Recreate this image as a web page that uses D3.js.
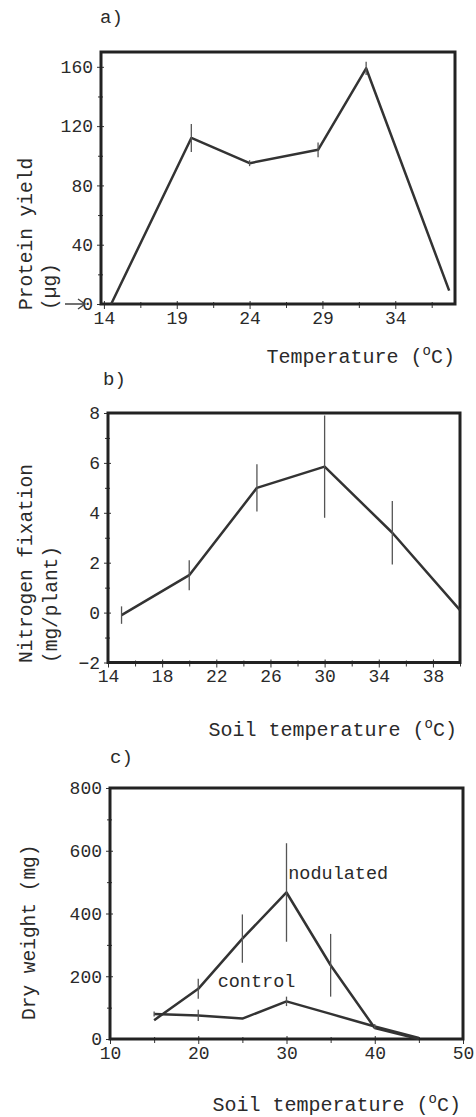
<!DOCTYPE html>
<html>
<head>
<meta charset="utf-8">
<script src="https://cdn.jsdelivr.net/npm/d3@7"></script>
<style>
  body { margin: 0; background: #fff; }
  text { font-family: "Liberation Mono", "Courier New", monospace; fill: #2a2a2a; }
</style>
</head>
<body>
<div id="chart"></div>
<script>
// a) protein yield vs temperature
const tempA = [14.5, 20, 24, 28.7, 32, 37.7];
const proteinA = [0, 112, 95, 104, 159, 9];
const proteinErrA = [0, 9.5, 2, 5, 4.5, 0];
const xTicksA = [14, 19, 24, 29, 34];
const yTicksA = [0, 40, 80, 120, 160];

// b) nitrogen fixation vs soil temperature
const tempB = [15, 20, 25, 30, 35, 40];
const fixationB = [-0.1, 1.5, 5.0, 5.85, 3.2, 0.1];
const fixationErrB = [0.35, 0.6, 0.95, 2.05, 1.27, 0];
const xTicksB = [14, 18, 22, 26, 30, 34, 38];
const yTicksB = [-2, 0, 2, 4, 6, 8];

// c) dry weight vs soil temperature
const tempC = [15, 20, 25, 30, 35, 40, 45];
const nodulatedC = [60, 160, 320, 467, 235, 35, 0];
const nodulatedErrC = [0, 32, 77, 157, 100, 0, 0];
const controlC = [80, 75, 65, 120, 80, 40, 3];
const controlErrC = [8, 18, 0, 15, 0, 8, 0];
const xTicksC = [10, 20, 30, 40, 50];
const yTicksC = [0, 200, 400, 600, 800];

const width = 476, height = 1117;

const svg = d3.select("#chart")
  .append("svg")
  .attr("width", width)
  .attr("height", height);

svg.append("rect").attr("width", width).attr("height", height).attr("fill", "#fff");

// "(°C)" with a raised o
function tempLabel(sel, prefix) {
  sel.append("tspan").text(prefix + " (");
  sel.append("tspan").attr("dy", -8).attr("font-size", 14).text("o");
  sel.append("tspan").attr("dy", 8).text("C)");
}

function drawPanel(p) {
  const x = d3.scaleLinear().domain(p.xDomain).range(p.xRange);
  const y = d3.scaleLinear().domain(p.yDomain).range(p.yRange);
  const g = svg.append("g");
  const x0 = p.xRange[0], y0 = p.yRange[0];

  // minor ticks
  g.append("g")
    .attr("transform", `translate(${x0 + 2},0)`)
    .call(d3.axisLeft(y).tickValues(p.yMinor).tickSize(5).tickFormat(""))
    .call(s => s.select(".domain").remove());
  g.append("g")
    .attr("transform", `translate(0,${y0 - 2})`)
    .call(d3.axisBottom(x).tickValues(p.xMinor).tickSize(6).tickFormat(""))
    .call(s => s.select(".domain").remove());

  // major ticks + labels
  g.append("g")
    .attr("transform", `translate(${x0 + 3},0)`)
    .call(d3.axisLeft(y).tickValues(p.yTicks).tickSize(7).tickPadding(4))
    .call(s => s.select(".domain").remove())
    .call(s => s.selectAll("text").attr("font-size", 18).attr("fill", "#2a2a2a"));
  g.append("g")
    .attr("transform", `translate(0,${y0 - 3})`)
    .call(d3.axisBottom(x).tickValues(p.xTicks).tickSize(8).tickPadding(2))
    .call(s => s.select(".domain").remove())
    .call(s => s.selectAll("text").attr("font-size", 18).attr("fill", "#2a2a2a"));

  g.selectAll(".tick line").attr("stroke", "#333").attr("stroke-width", 1);

  // frame
  g.append("rect")
    .attr("x", x0)
    .attr("y", p.yRange[1])
    .attr("width", p.xRange[1] - x0)
    .attr("height", y0 - p.yRange[1])
    .attr("fill", "none")
    .attr("stroke", "#222")
    .attr("stroke-width", 3);

  const line = d3.line().x(d => x(d.t)).y(d => y(d.v));

  p.series.forEach(s => {
    const pts = s.t.map((t, i) => ({ t, v: s.v[i], e: s.e[i] }));
    g.append("path")
      .datum(pts)
      .attr("fill", "none")
      .attr("stroke", "#333")
      .attr("stroke-width", 2.5)
      .attr("stroke-linejoin", "round")
      .attr("d", line);
    g.selectAll(null)
      .data(pts.filter(d => d.e > 0))
      .enter()
      .append("line")
      .attr("x1", d => x(d.t)).attr("x2", d => x(d.t))
      .attr("y1", d => y(d.v - d.e)).attr("y2", d => y(d.v + d.e))
      .attr("stroke", "#555")
      .attr("stroke-width", 1.3);
  });

  // panel letter
  g.append("text")
    .attr("x", p.letterPos[0]).attr("y", p.letterPos[1])
    .attr("font-size", 19)
    .text(p.letter);

  // x label
  g.append("text")
    .attr("x", p.xLabelPos[0]).attr("y", p.xLabelPos[1])
    .attr("text-anchor", "end")
    .attr("font-size", 20)
    .call(tempLabel, p.xLabel);

  // y labels (rotated)
  p.yLabels.forEach(l => {
    g.append("text")
      .attr("transform", `translate(${l.x},${l.y}) rotate(-90)`)
      .attr("font-size", 19.5)
      .text(l.text);
  });

  return { x, y, g };
}

// a)
const pa = drawPanel({
  xDomain: [13.8, 38.1], xRange: [101, 455],
  yDomain: [0, 170], yRange: [304, 52],
  xTicks: xTicksA, xMinor: [16.5, 21.5, 26.5, 31.5, 36.5],
  yTicks: yTicksA, yMinor: [20, 60, 100, 140],
  series: [{ t: tempA, v: proteinA, e: proteinErrA }],
  letter: "a)", letterPos: [100, 23],
  xLabel: "Temperature", xLabelPos: [455, 363],
  yLabels: [{ text: "Protein yield", x: 32, y: 310 }, { text: "(\u00b5g)", x: 56, y: 310 }]
});
// arrow pointing at zero
const ay = pa.y(0);
pa.g.append("path")
  .attr("d", `M65,${ay}H84M78,${ay - 5}L85,${ay}L78,${ay + 5}`)
  .attr("fill", "none")
  .attr("stroke", "#444")
  .attr("stroke-width", 1.4);

// b)
drawPanel({
  xDomain: [14, 40], xRange: [108, 460],
  yDomain: [-2, 8], yRange: [662.5, 413],
  xTicks: xTicksB, xMinor: [16, 20, 24, 28, 32, 36, 40],
  yTicks: yTicksB, yMinor: [-1, 1, 3, 5, 7],
  series: [{ t: tempB, v: fixationB, e: fixationErrB }],
  letter: "b)", letterPos: [103, 385],
  xLabel: "Soil temperature", xLabelPos: [457, 736],
  yLabels: [{ text: "Nitrogen fixation", x: 32, y: 663 }, { text: "(mg/plant)", x: 57, y: 663 }]
});

// c)
const pc = drawPanel({
  xDomain: [10, 50], xRange: [110, 463],
  yDomain: [0, 800], yRange: [1039, 788],
  xTicks: xTicksC, xMinor: [15, 25, 35, 45],
  yTicks: yTicksC, yMinor: [100, 300, 500, 700],
  series: [
    { t: tempC, v: nodulatedC, e: nodulatedErrC },
    { t: tempC, v: controlC, e: controlErrC }
  ],
  letter: "c)", letterPos: [110, 763],
  xLabel: "Soil temperature", xLabelPos: [461, 1111],
  yLabels: [{ text: "Dry weight (mg)", x: 35, y: 1020 }]
});

pc.g.append("text")
  .attr("x", pc.x(30.2)).attr("y", pc.y(590) + 25)
  .attr("font-size", 18.5)
  .text("nodulated");
pc.g.append("text")
  .attr("x", pc.x(22.2)).attr("y", pc.y(165))
  .attr("font-size", 18.5)
  .text("control");
</script>
</body>
</html>
